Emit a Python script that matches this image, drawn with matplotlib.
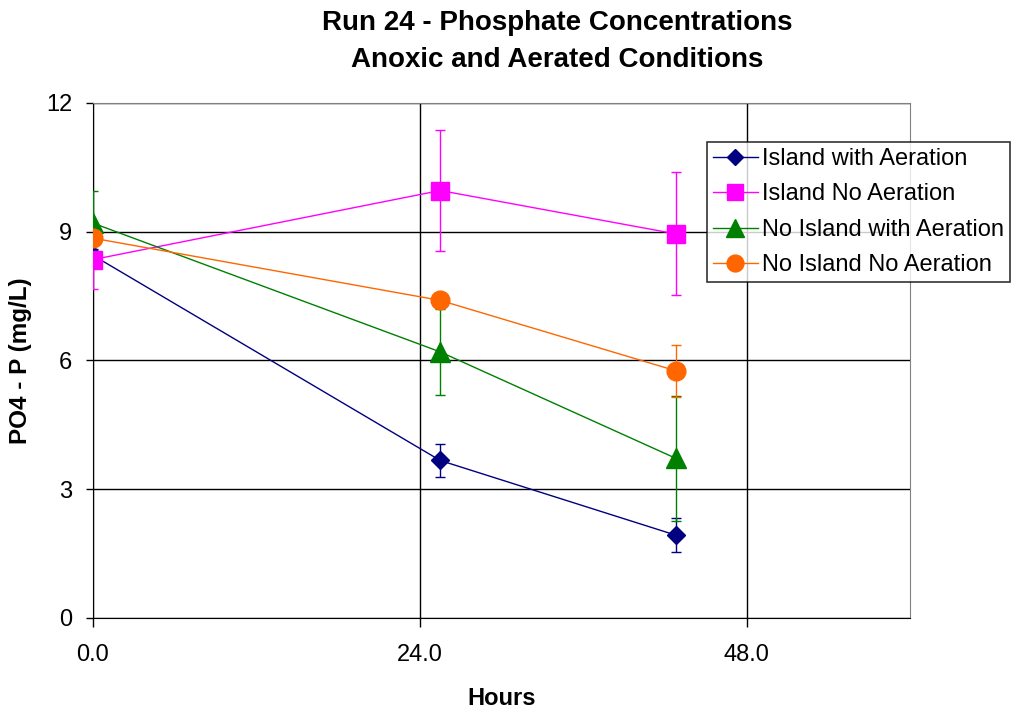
import matplotlib
matplotlib.use('Agg')
import matplotlib.pyplot as plt
from matplotlib.lines import Line2D

plt.rcParams['font.family'] = ['Liberation Sans', 'DejaVu Sans']

# sampling times (hours)
hours = [0.0, 25.5, 42.8]

# PO4-P means and error bars (mg/L)
island_aer = [8.45, 3.67, 1.93]
island_aer_err = [0.15, 0.38, 0.39]
island_noaer = [8.35, 9.96, 8.95]
island_noaer_err = [0.68, 1.4, 1.43]
noisland_aer = [9.2, 6.2, 3.72]
noisland_aer_err = [0.75, 1.0, 1.45]
noisland_noaer = [8.85, 7.4, 5.76]
noisland_noaer_err = [0.15, 0.15, 0.6]

labels = ['Island with Aeration', 'Island No Aeration',
          'No Island with Aeration', 'No Island No Aeration']

fig = plt.figure(figsize=(10.17, 7.1), dpi=100)
ax = fig.add_axes([0.0914, 0.1296, 0.8034, 0.7254])

series = [
    (island_aer, island_aer_err, '#000080', 'D', 9),
    (island_noaer, island_noaer_err, '#FF00FF', 's', 13.5),
    (noisland_aer, noisland_aer_err, '#008000', '^', 14),
    (noisland_noaer, noisland_noaer_err, '#FF6600', 'o', 13.5),
]
handles = []
for (y, e, c, m, ms), lab in zip(series, labels):
    # error bars under the markers
    ax.errorbar(hours, y, yerr=e, color=c, fmt='none',
                elinewidth=1, capsize=3.5, capthick=1, zorder=3)
    ax.plot(hours, y, color=c, marker=m, markersize=ms, lw=1, zorder=4)
    handles.append(Line2D([], [], color=c, marker=m, markersize=ms * 0.9,
                          lw=1, label=lab))

ax.set_xlim(0, 60)
ax.set_ylim(0, 12)
ax.set_xticks([0, 24, 48])
ax.set_xticklabels(['0.0', '24.0', '48.0'])
ax.set_yticks([0, 3, 6, 9, 12])
ax.grid(True, color='black', lw=1)
ax.set_axisbelow(True)
ax.tick_params(labelsize=17, direction='out', width=1)
ax.tick_params(axis='y', length=5, pad=10)
ax.tick_params(axis='x', length=6.5, pad=12)
for s in ['top', 'right']:
    ax.spines[s].set_color('#808080')

ax.set_xlabel('Hours', fontsize=17, fontweight='bold', labelpad=15)
ax.set_ylabel('PO4 - P (mg/L)', fontsize=17.5, fontweight='bold')
ax.yaxis.set_label_coords(-0.075, 0.5)
fig.text(557 / 1017, 0.967, 'Run 24 - Phosphate Concentrations',
         ha='center', va='center', fontsize=20, fontweight='bold')
fig.text(557 / 1017, 0.915, 'Anoxic and Aerated Conditions',
         ha='center', va='center', fontsize=20, fontweight='bold')

leg = fig.legend(handles=handles, loc='upper left',
                 bbox_to_anchor=(707 / 1017, 1 - 142 / 710), fontsize=17,
                 frameon=True, fancybox=False, edgecolor='black',
                 borderpad=0.25, labelspacing=0.57, handlelength=1.9,
                 handletextpad=0.2, borderaxespad=0)
leg.get_frame().set_linewidth(1.2)

fig.savefig('out.png', dpi=100)
